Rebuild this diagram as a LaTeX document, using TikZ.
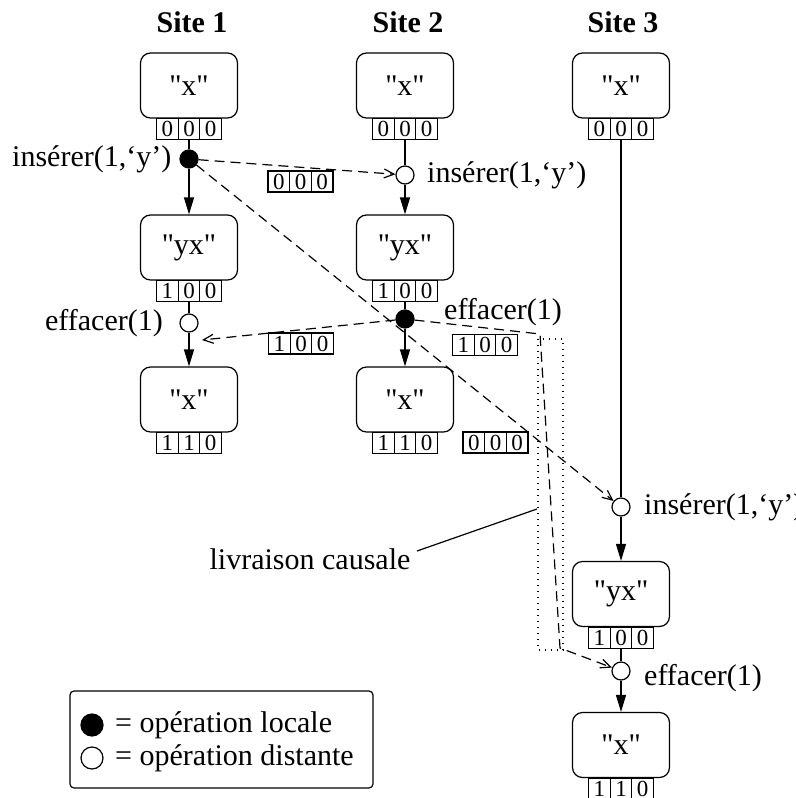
\documentclass[tikz,border=0pt]{standalone}
\usepackage{fontspec}
\setmainfont{Liberation Serif}[Ligatures=TeXOff]
\usetikzlibrary{arrows.meta}
\usetikzlibrary{positioning}

\tikzset{
  every node/.style={font=\fontsize{15}{18}\selectfont},
  etat/.style={draw, rounded corners=5pt, minimum width=48.5pt, minimum height=32.5pt, inner sep=0pt},
  cell/.style={draw, minimum width=10.85pt, minimum height=10.5pt, inner sep=0pt, font=\fontsize{11.5}{13}\selectfont},
  locale/.style={circle, draw, fill=black, minimum size=9pt, inner sep=0pt},
  distante/.style={circle, draw, fill=white, minimum size=9pt, inner sep=0pt},
  txt/.style={inner sep=0pt},
  flow/.style={-{Triangle[length=8.5pt,width=5pt]}},
  msg/.style={dash pattern=on 5pt off 3pt, -{Straight Barb[length=5pt,width=4.5pt]}},
  causal/.style={dash pattern=on 0.6pt off 2.4pt},
  vecteur/.pic={
    \foreach \v [count=\i] in {#1}
      \node[cell] (-c\i) at ({(\i-2)*21.7},0) {\v};
  }
}

\begin{document}
\begin{tikzpicture}[x=0.5pt, y=-0.5pt, line width=0.6pt]
\useasboundingbox (0,0) rectangle (796,798);

% sites
\node[font=\fontsize{15}{18}\selectfont\bfseries] (t1) at (192,22) {Site 1};
\node[font=\fontsize{15}{18}\selectfont\bfseries] (t2) at (408,22) {Site 2};
\node[font=\fontsize{15}{18}\selectfont\bfseries] (t3) at (623,22) {Site 3};

% etats
\node[etat] (s1a) at (189,85.5) {"x"};
\node[etat] (s1b) at (189,247.5) {"yx"};
\node[etat] (s1c) at (189,399.5) {"x"};
\node[etat] (s2a) at (405,85.5) {"x"};
\node[etat] (s2b) at (405,247.5) {"yx"};
\node[etat] (s2c) at (405,399.5) {"x"};
\node[etat] (s3a) at (621,85.5) {"x"};
\node[etat] (s3b) at (621,594) {"yx"};
\node[etat] (s3c) at (621,745) {"x"};

\pic (v1a) at ([yshift=-5.25pt]s1a.south) {vecteur={0,0,0}};
\pic (v1b) at ([yshift=-5.25pt]s1b.south) {vecteur={1,0,0}};
\pic (v1c) at ([yshift=-5.25pt]s1c.south) {vecteur={1,1,0}};
\pic (v2a) at ([yshift=-5.25pt]s2a.south) {vecteur={0,0,0}};
\pic (v2b) at ([yshift=-5.25pt]s2b.south) {vecteur={1,0,0}};
\pic (v2c) at ([yshift=-5.25pt]s2c.south) {vecteur={1,1,0}};
\pic (v3a) at ([yshift=-5.25pt]s3a.south) {vecteur={0,0,0}};
\pic (v3b) at ([yshift=-5.25pt]s3b.south) {vecteur={1,0,0}};
\pic (v3c) at ([yshift=-5.25pt]s3c.south) {vecteur={1,1,0}};

% operations
\node[locale] (o11) at (189,159) {};
\node[distante] (o12) at (189,323) {};
\node[distante] (o21) at (405,175) {};
\node[locale] (o22) at (405,319) {};
\node[distante] (o31) at (621,507) {};
\node[distante] (o32) at (621,671) {};

\node[txt, left=3.75pt of o11] (l11) {insérer(1,‘y’)};
\node[txt, left=8pt of o12] (l12) {effacer(1)};
\node[txt, right=6pt of o21] (l21) {insérer(1,‘y’)};
\node[txt, right=14.5pt of o22, yshift=3.5pt] (l22) {effacer(1)};
\node[txt, right=6.5pt of o31] (l31) {insérer(1,‘y’)};
\node[txt, right=6.5pt of o32, yshift=-3.5pt] (l32) {effacer(1)};

\draw (v1a-c2.south) -- (o11);
\draw[flow] (o11) -- (s1b);
\draw (v1b-c2.south) -- (o12);
\draw[flow] (o12) -- (s1c);
\draw (v2a-c2.south) -- (o21);
\draw[flow] (o21) -- (s2b);
\draw (v2b-c2.south) -- (o22);
\draw[flow] (o22) -- (s2c);
\draw (v3a-c2.south) -- (o31);
\draw[flow] (o31) -- (s3b);
\draw (v3b-c2.south) -- (o32);
\draw[flow] (o32) -- (s3c);

% messages
\pic (m1) at (300.5,181.5) {vecteur={0,0,0}};
\pic (m2) at (301,343.5) {vecteur={1,0,0}};
\pic (m3) at (485,345) {vecteur={1,0,0}};
\pic (m4) at (495.5,442.5) {vecteur={0,0,0}};

\coordinate (d12) at (202,340);
\coordinate (k1) at (540,334);
\coordinate (k2) at (560,648);

\draw[msg] (o11) -- (o21);
\draw[msg] (o11) -- (o31);
\draw[msg] (o22) -- (d12);
\draw[msg] (o22) -- (k1) -- (k2) -- (o32);

% livraison causale
\draw[causal] (538,339) rectangle (563,650);
\node[txt, anchor=east] (lc) at (411,559) {livraison causale};
\coordinate (lcend) at (537,509);
\draw ([shift={(3pt,4pt)}]lc.east) -- (lcend);

% legende
\draw[rounded corners=2pt] (70,691) rectangle (373,788);
\node[locale, minimum size=11pt] (kl) at (92,725) {};
\node[distante, minimum size=11pt] (kd) at (92,758) {};
\node[txt, right=5.5pt of kl] (tl) {= opération locale};
\node[txt, right=5.5pt of kd] (td) {= opération distante};

\end{tikzpicture}
\end{document}
